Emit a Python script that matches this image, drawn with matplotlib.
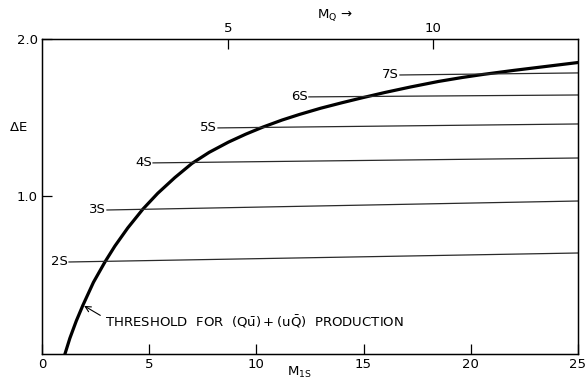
import matplotlib
matplotlib.use("Agg")
import matplotlib.pyplot as plt

# threshold curve (M_1S, Delta E)
m1s = [1.07, 1.3, 1.6, 1.91, 2.4, 2.94, 3.4, 4.0, 4.71, 5.4, 6.2, 7.0, 7.8, 8.7, 9.5,
       10.3, 11.2, 12.0, 13.0, 14.0, 14.9, 16.0, 17.2, 18.5, 19.6, 20.6, 22.0, 23.5, 25.0]
dE = [0.0, 0.10, 0.21, 0.31, 0.455, 0.585, 0.685, 0.80, 0.92, 1.02, 1.12, 1.21, 1.28, 1.345, 1.395,
      1.44, 1.485, 1.52, 1.56, 1.595, 1.625, 1.66, 1.695, 1.73, 1.755, 1.775, 1.80, 1.825, 1.85]

# S-state levels: label, start M_1S, Delta E at start, Delta E at M_1S = 25
levels = ["2S", "3S", "4S", "5S", "6S", "7S"]
lvl_start = [1.26, 3.03, 5.18, 8.21, 12.45, 16.7]
lvl_e0 = [0.584, 0.914, 1.213, 1.435, 1.632, 1.771]
lvl_e1 = [0.641, 0.971, 1.244, 1.460, 1.644, 1.784]

x_ticks = [0, 5, 10, 15, 20, 25]
y_ticks = [1.0, 2.0]
mq_ticks = [5, 10]
# M_1S = a * M_Q + b (from where the top ticks sit)
mq_a, mq_b = 1.912, -0.88

plt.rcParams['font.family'] = ['DejaVu Sans']

fig = plt.figure(figsize=(5.85, 3.89), dpi=100)
ax = fig.add_axes([0.0718, 0.090, 0.916, 0.810])

ax.plot(m1s, dE, color='black', lw=2.3, solid_joinstyle='round')

for name, x0, e0, e1 in zip(levels, lvl_start, lvl_e0, lvl_e1):
    ax.plot([x0, 25], [e0, e1], color='#2a2a2a', lw=0.9)
    ax.text(x0 - 0.05, e0, name, ha='right', va='center', fontsize=9.5)

# threshold label with its pointer
ax.annotate("", xy=(1.91, 0.31), xytext=(2.72, 0.245),
            arrowprops=dict(arrowstyle='->', color='black', lw=0.8,
                            shrinkA=0, shrinkB=1))
ax.text(2.95, 0.205, r"THRESHOLD  FOR  $(\mathrm{Q\bar{u}})+(\mathrm{u\bar{Q}})$  PRODUCTION",
        ha='left', va='center', fontsize=9.5)

ax.set_xlim(0, 25)
ax.set_ylim(0, 2.0)
ax.set_xticks(x_ticks)
ax.set_xticklabels([str(t) for t in x_ticks])
ax.set_yticks(y_ticks)
ax.set_yticklabels(["1.0", "2.0"])
ax.tick_params(direction='in', length=7, width=0.9, labelsize=9.5, pad=3)
for s in ax.spines.values():
    s.set_linewidth(1.0)

top = ax.twiny()
top.set_xlim(0, 25)
top.set_xticks([mq_a * q + mq_b for q in mq_ticks])
top.set_xticklabels([str(t) for t in mq_ticks])
top.tick_params(direction='in', length=7, width=0.9, labelsize=9.5, pad=3)

ax.text(-0.045, 0.72, r"$\Delta$E", transform=ax.transAxes, ha='center', va='center', fontsize=9.5)
ax.text(0.48, -0.06, r"M$_{\mathrm{1S}}$", transform=ax.transAxes, ha='center', va='center', fontsize=9.5)
ax.text(0.513, 1.076, r"M$_{\mathrm{Q}}$ →", transform=ax.transAxes, ha='left', va='center', fontsize=9.5)

fig.savefig("out.png", dpi=100)
